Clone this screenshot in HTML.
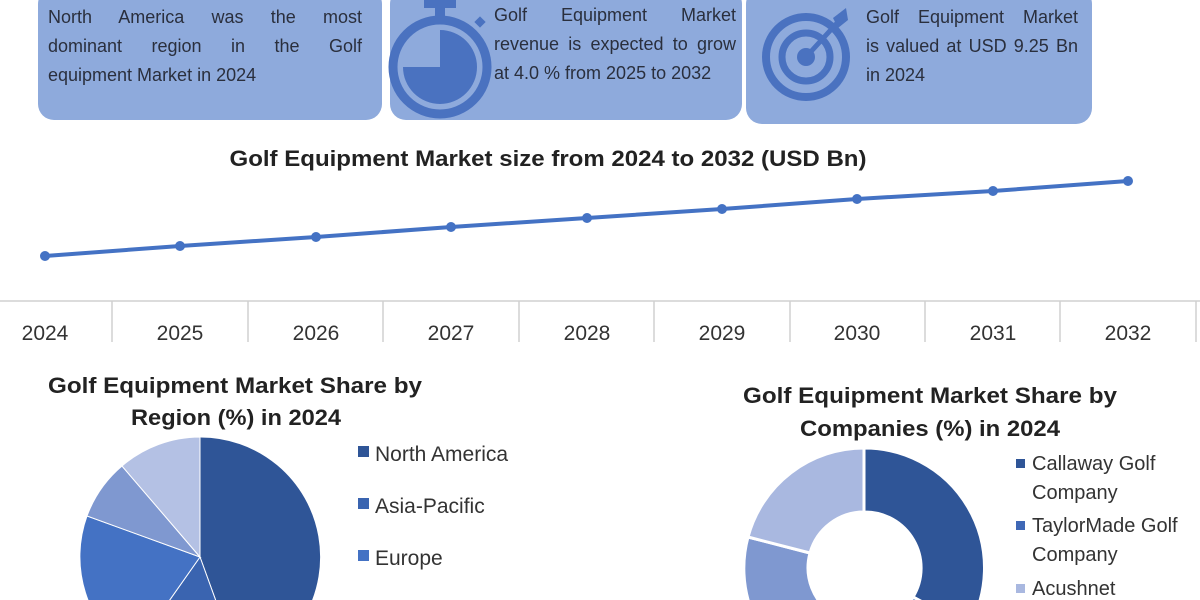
<!DOCTYPE html>
<html><head><style>
body{margin:0;width:1200px;height:600px;overflow:hidden;background:#fff;font-family:"Liberation Sans",sans-serif;position:relative;}
.box{position:absolute;background:#8eaadc;border-radius:16px;}
.t{position:absolute;color:#2a2f3d;font-size:18px;line-height:29px;}
.j{text-align:justify;text-align-last:justify;white-space:nowrap;}
</style></head><body>
<div class="box" style="left:38px;top:-12px;width:344px;height:132px"></div>
<div class="box" style="left:390px;top:-12px;width:352px;height:132px"></div>
<div class="box" style="left:746px;top:-12px;width:346px;height:136px"></div>
<div class="t" style="left:48px;top:3px;width:314px"><div class="j">North America was the most</div><div class="j">dominant region in the Golf</div><div>equipment Market in 2024</div></div>
<div class="t" style="left:494px;top:1px;width:242px"><div class="j">Golf Equipment Market</div><div class="j">revenue is expected to grow</div><div>at 4.0 % from 2025 to 2032</div></div>
<div class="t" style="left:866px;top:3px;width:212px"><div class="j">Golf Equipment Market</div><div class="j">is valued at USD 9.25 Bn</div><div>in 2024</div></div>
<svg width="1200" height="600" style="position:absolute;left:0;top:0;overflow:hidden">
<g fill="#4a72c0" stroke="none">
<rect x="424" y="0" width="32" height="8"/>
<rect x="435" y="6" width="10" height="12"/>
<circle cx="440" cy="67" r="47" fill="none" stroke="#4a72c0" stroke-width="9"/>
<path d="M440 67 L440 30 A37 37 0 1 1 403 67 Z"/>
<rect x="476" y="18" width="8" height="8" transform="rotate(45 480 22)"/>
</g>
<g fill="none" stroke="#4a72c0">
<circle cx="806" cy="57" r="40" stroke-width="8"/>
<circle cx="806" cy="57" r="24" stroke-width="7"/>
<circle cx="806" cy="57" r="9" fill="#4a72c0" stroke="none"/>
<line x1="806" y1="57" x2="838" y2="22" stroke-width="5"/>
<path d="M833 18 L846 8 L848 20 L838 28 Z" fill="#4a72c0" stroke="none"/>
</g>
<text x="548" y="166" text-anchor="middle" font-size="22" font-weight="bold" fill="#222" textLength="637" lengthAdjust="spacingAndGlyphs">Golf Equipment Market size from 2024 to 2032 (USD Bn)</text>
<polyline points="45,256 180,246 316,237 451,227 587,218 722,209 857,199 993,191 1128,181" fill="none" stroke="#4472c4" stroke-width="4"/>
<g fill="#4472c4">
<circle cx="45" cy="256" r="5"/><circle cx="180" cy="246" r="5"/><circle cx="316" cy="237" r="5"/><circle cx="451" cy="227" r="5"/><circle cx="587" cy="218" r="5"/><circle cx="722" cy="209" r="5"/><circle cx="857" cy="199" r="5"/><circle cx="993" cy="191" r="5"/><circle cx="1128" cy="181" r="5"/>
</g>
<line x1="0" y1="301" x2="1200" y2="301" stroke="#d0d0d0" stroke-width="1.5"/>
<g stroke="#d0d0d0" stroke-width="1.5">
<line x1="112" y1="301" x2="112" y2="342"/><line x1="248" y1="301" x2="248" y2="342"/><line x1="383" y1="301" x2="383" y2="342"/><line x1="519" y1="301" x2="519" y2="342"/><line x1="654" y1="301" x2="654" y2="342"/><line x1="790" y1="301" x2="790" y2="342"/><line x1="925" y1="301" x2="925" y2="342"/><line x1="1060" y1="301" x2="1060" y2="342"/><line x1="1196" y1="301" x2="1196" y2="342"/>
</g>
<g font-size="21" fill="#333" text-anchor="middle">
<text x="45" y="340">2024</text><text x="180" y="340">2025</text><text x="316" y="340">2026</text><text x="451" y="340">2027</text><text x="587" y="340">2028</text><text x="722" y="340">2029</text><text x="857" y="340">2030</text><text x="993" y="340">2031</text><text x="1128" y="340">2032</text>
</g>
<g font-size="22" font-weight="bold" fill="#222" text-anchor="middle">
<text x="235" y="393" textLength="374" lengthAdjust="spacingAndGlyphs">Golf Equipment Market Share by</text>
<text x="236" y="425" textLength="210" lengthAdjust="spacingAndGlyphs">Region (%) in 2024</text>
<text x="930" y="403" textLength="374" lengthAdjust="spacingAndGlyphs">Golf Equipment Market Share by</text>
<text x="930" y="436" textLength="260" lengthAdjust="spacingAndGlyphs">Companies (%) in 2024</text>
</g>
<g stroke="#fff" stroke-width="1">
<path d="M200 557 L200 437 A120 120 0 0 1 241 670 Z" fill="#2f5597"/>
<path d="M200 557 L241 670 A120 120 0 0 1 131 655 Z" fill="#3a64b0"/>
<path d="M200 557 L131 655 A120 120 0 0 1 87 516 Z" fill="#4472c4"/>
<path d="M200 557 L87 516 A120 120 0 0 1 122 466 Z" fill="#7f98d0"/>
<path d="M200 557 L122 466 A120 120 0 0 1 200 437 Z" fill="#b4c1e4"/>
</g>
<g font-size="21" fill="#333">
<rect x="358" y="446" width="11" height="11" fill="#2f5597"/><text x="375" y="461">North America</text>
<rect x="358" y="498" width="11" height="11" fill="#3a64b0"/><text x="375" y="513">Asia-Pacific</text>
<rect x="358" y="550" width="11" height="11" fill="#4472c4"/><text x="375" y="565">Europe</text>
<rect x="358" y="602" width="11" height="11" fill="#7f98d0"/>
</g>
<g stroke="#fff" stroke-width="3">
<path d="M864 448 A120 120 0 0 1 969 627 L913 597 A56 56 0 0 0 864 512 Z" fill="#2f5597"/>
<path d="M969 627 A120 120 0 0 1 800 670 L834 615 A56 56 0 0 0 913 597 Z" fill="#3f68b6"/>
<path d="M800 670 A120 120 0 0 1 748 537 L810 553 A56 56 0 0 0 834 615 Z" fill="#7f98d0"/>
<path d="M748 537 A120 120 0 0 1 864 448 L864 512 A56 56 0 0 0 810 553 Z" fill="#a9b8e0"/>
</g>
<g font-size="20" fill="#333">
<rect x="1016" y="459" width="9" height="9" fill="#2f5597"/><text x="1032" y="470">Callaway Golf</text>
<text x="1032" y="499">Company</text>
<rect x="1016" y="521" width="9" height="9" fill="#3f68b6"/><text x="1032" y="532">TaylorMade Golf</text>
<text x="1032" y="561">Company</text>
<rect x="1016" y="584" width="9" height="9" fill="#a9b8e0"/><text x="1032" y="595">Acushnet</text>
</g>
</svg>
</body></html>
